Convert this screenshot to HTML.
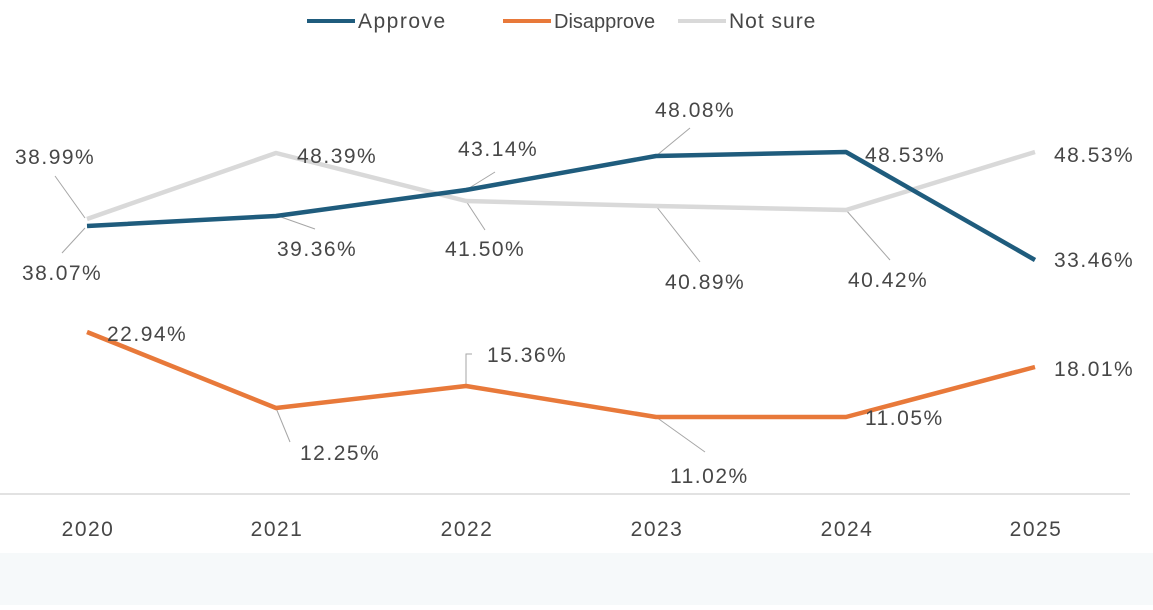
<!DOCTYPE html>
<html><head><style>
body{margin:0;width:1153px;height:605px;overflow:hidden;background:#fff}
svg text{font-family:"Liberation Sans",Arial,sans-serif;font-size:21px;letter-spacing:1.5px;fill:#474747}
</style></head><body>
<svg width="1153" height="605" xmlns="http://www.w3.org/2000/svg">
<rect x="0" y="553" width="1153" height="52" fill="#f6f9fa"/>
<line x1="0" y1="494" x2="1130" y2="494" stroke="#d9d9d9" stroke-width="1.5"/>
<g text-anchor="middle">
<text x="88" y="536">2020</text><text x="277" y="536">2021</text><text x="467" y="536">2022</text>
<text x="657" y="536">2023</text><text x="847" y="536">2024</text><text x="1036" y="536">2025</text>
</g>
<line x1="307" y1="21" x2="355" y2="21" stroke="#1f5c7d" stroke-width="4"/><text x="358" y="28">Approve</text>
<line x1="503" y1="21" x2="551" y2="21" stroke="#e8793a" stroke-width="4"/><text x="554" y="28" style="letter-spacing:0;font-size:20px">Disapprove</text>
<line x1="678" y1="21" x2="726" y2="21" stroke="#d9d9d9" stroke-width="4"/><text x="729" y="28" style="letter-spacing:1px">Not sure</text>
<g stroke="#a6a6a6" stroke-width="1" fill="none">
<line x1="55" y1="176" x2="85" y2="218"/><line x1="62" y1="253" x2="85" y2="228"/>
<line x1="281" y1="217" x2="315" y2="229"/><line x1="466" y1="201" x2="485" y2="230"/>
<line x1="466" y1="190" x2="495" y2="172"/><line x1="656" y1="156" x2="690" y2="128"/>
<line x1="656" y1="206" x2="700" y2="262"/><line x1="846" y1="210" x2="890" y2="260"/>
<line x1="276" y1="408" x2="290" y2="442"/><polyline points="466,386 466,354 472,354"/>
<line x1="656" y1="417" x2="705" y2="452"/>
</g>
<polyline points="87,219 276,153 466,201 656,206 846,210 1035,152" fill="none" stroke="#d9d9d9" stroke-width="4.5" stroke-linejoin="round"/>
<polyline points="87,226 276,216 466,190 656,156 846,152 1035,260" fill="none" stroke="#1f5c7d" stroke-width="4.5" stroke-linejoin="round"/>
<polyline points="87,332 276,408 466,386 656,417 846,417 1035,367" fill="none" stroke="#e8793a" stroke-width="4.5" stroke-linejoin="round"/>
<text x="15" y="164">38.99%</text><text x="22" y="280">38.07%</text>
<text x="297" y="163">48.39%</text><text x="277" y="256">39.36%</text>
<text x="458" y="156">43.14%</text><text x="445" y="256">41.50%</text>
<text x="655" y="117">48.08%</text><text x="665" y="289">40.89%</text>
<text x="865" y="162">48.53%</text><text x="848" y="287">40.42%</text>
<text x="1054" y="162">48.53%</text><text x="1054" y="267">33.46%</text>
<text x="107" y="341">22.94%</text><text x="300" y="460">12.25%</text>
<text x="487" y="362">15.36%</text><text x="670" y="483">11.02%</text>
<text x="865" y="425">11.05%</text><text x="1054" y="376">18.01%</text>
</svg>
</body></html>
